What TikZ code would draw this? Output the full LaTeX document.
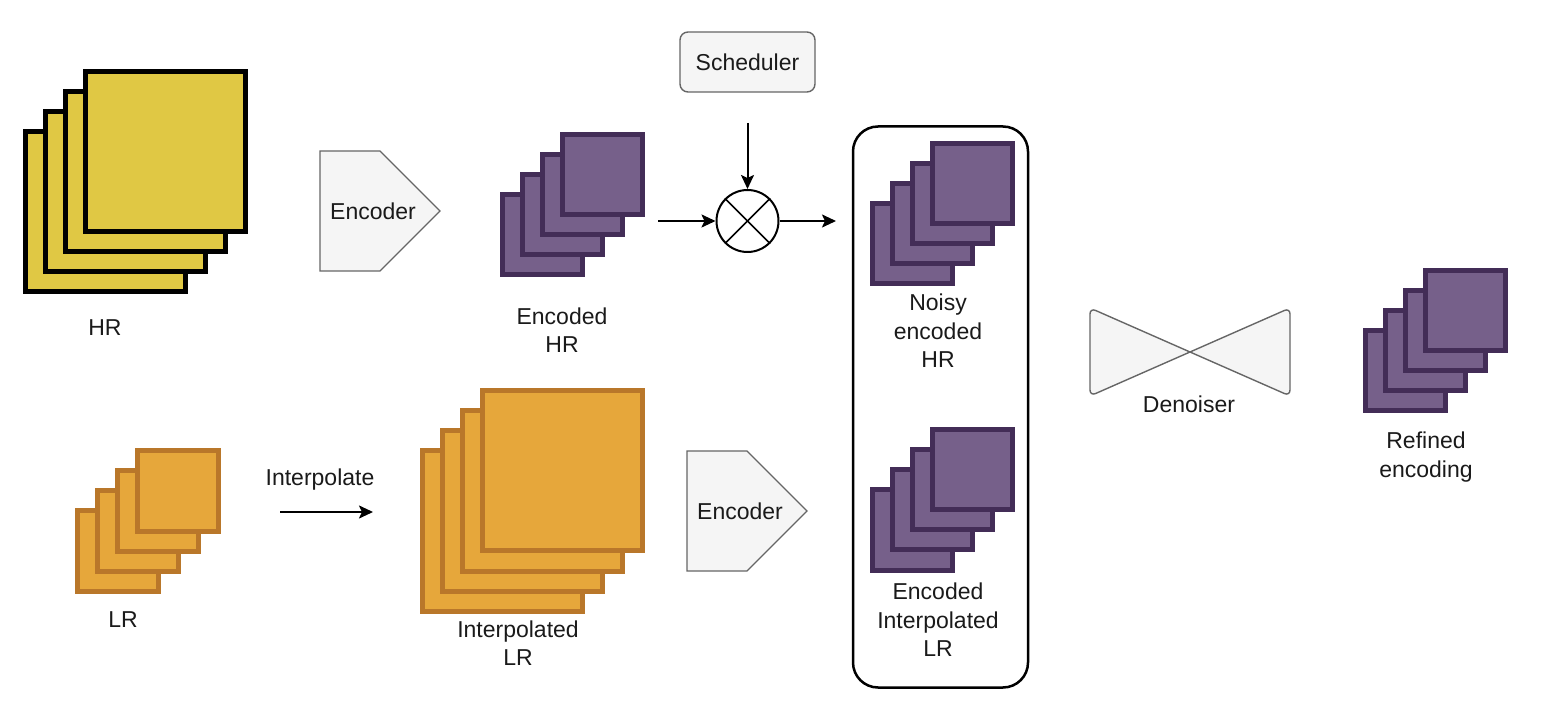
\documentclass[tikz,border=0pt]{standalone}
\usepackage{fontspec}
\setmainfont{Liberation Sans}
\usetikzlibrary{arrows.meta}
\definecolor{hrfill}{HTML}{E0C844}
\definecolor{lrfill}{HTML}{E6A73B}
\definecolor{lrdraw}{HTML}{B9772A}
\definecolor{pufill}{HTML}{76608A}
\definecolor{pudraw}{HTML}{432D57}
\definecolor{boxfill}{HTML}{F5F5F5}
\definecolor{boxdraw}{HTML}{666666}
\definecolor{txt}{HTML}{1A1A1A}
\tikzset{
  hrsq/.style={draw=black, fill=hrfill, line width=2.5pt, inner sep=0pt, minimum size=80pt},
  lrsq/.style={draw=lrdraw, fill=lrfill, line width=2.5pt, inner sep=0pt},
  pusq/.style={draw=pudraw, fill=pufill, line width=2.5pt, inner sep=0pt, minimum size=40pt},
  lbl/.style={text=txt, align=center, inner sep=0pt, font=\fontsize{11.5}{14.3}\selectfont},
  grayshape/.style={draw=boxdraw, fill=boxfill, line width=0.7pt},
  arr/.style={line width=1pt, -{Stealth[length=7pt,width=6.5pt,inset=1.5pt]}},
}
\newcommand\mystack[5]{%
  \foreach \i/\d in {4/60,3/40,2/20,1/0}{%
    \node[#5] (#1\i) at ({#2-\d},{#3+\d}) {};%
  }%
}
\begin{document}
\begin{tikzpicture}[x=0.5pt,y=-0.5pt]
\useasboundingbox (0,0) rectangle (1548,716);

% HR
\mystack{hr}{165.5}{151.5}{}{hrsq}
\node[lbl] (hrl) at (105,328) {HR};

% Encoder 1
\draw[grayshape] (320,151) -- (380,151) -- (440,211) -- (380,271) -- (320,271) -- cycle;
\node[lbl] (enc1) at (373,211) {Encoder};

% Encoded HR
\mystack{ehr}{602.5}{175}{}{pusq}
\node[lbl] (ehrl) at (562,330) {Encoded\\HR};

% Scheduler and mixing
\node[grayshape, rounded corners=4pt, minimum width=67.5pt, minimum height=30pt, lbl, inner sep=0pt] (sch) at (747.5,62) {Scheduler};
\node[draw=black, circle, line width=1pt, minimum size=31pt, inner sep=0pt] (mix) at (747.5,221) {};
\draw[line width=0.8pt] (mix.north west) -- (mix.south east);
\draw[line width=0.8pt] (mix.north east) -- (mix.south west);
\coordinate (schout) at (747.5,123);
\coordinate (ehrout) at (658,221);
\coordinate (mixout) at (836,221);
\draw[arr] (schout) -- (mix);
\draw[arr] (ehrout) -- (mix);
\draw[arr] (mix) -- (mixout);

% Big rounded box
\node[draw=black, line width=1.25pt, rounded corners=12.5pt, minimum width=87.5pt, minimum height=280.5pt, inner sep=0pt] (group) at (940.5,407) {};

% Noisy encoded HR
\mystack{nhr}{972}{183.5}{}{pusq}
\node[lbl] (nhrl) at (938,331) {Noisy\\encoded\\HR};

% Encoded interpolated LR
\mystack{eilr}{972}{470}{}{pusq}
\node[lbl] (eilrl) at (938,620) {Encoded\\Interpolated\\LR};

% Denoiser
\draw[grayshape, rounded corners=3pt] (1090,308) -- (1290,396) -- (1290,308) -- (1090,396) -- cycle;
\coordinate (dn) at (1190,352);
\node[lbl] (dnl) at (1189,404) {Denoiser};

% Refined encoding
\mystack{ref}{1465.5}{310.5}{}{pusq}
\node[lbl] (refl) at (1426,457) {Refined\\encoding};

% LR
\mystack{lr}{178}{491}{}{lrsq, minimum size=40.5pt}
\node[lbl] (lrl) at (123,620) {LR};

% Interpolate
\node[lbl] (intl) at (320,480) {Interpolate};
\coordinate (ia) at (280,512);
\coordinate (ib) at (373,512);
\draw[arr] (ia) -- (ib);

% Interpolated LR
\mystack{ilr}{562.5}{471}{}{lrsq, minimum size=80pt}
\node[lbl] (ilrl) at (518,643) {Interpolated\\LR};

% Encoder 2
\draw[grayshape] (687,451) -- (747,451) -- (807,511) -- (747,571) -- (687,571) -- cycle;
\node[lbl] (enc2) at (740,511) {Encoder};
\end{tikzpicture}
\end{document}
